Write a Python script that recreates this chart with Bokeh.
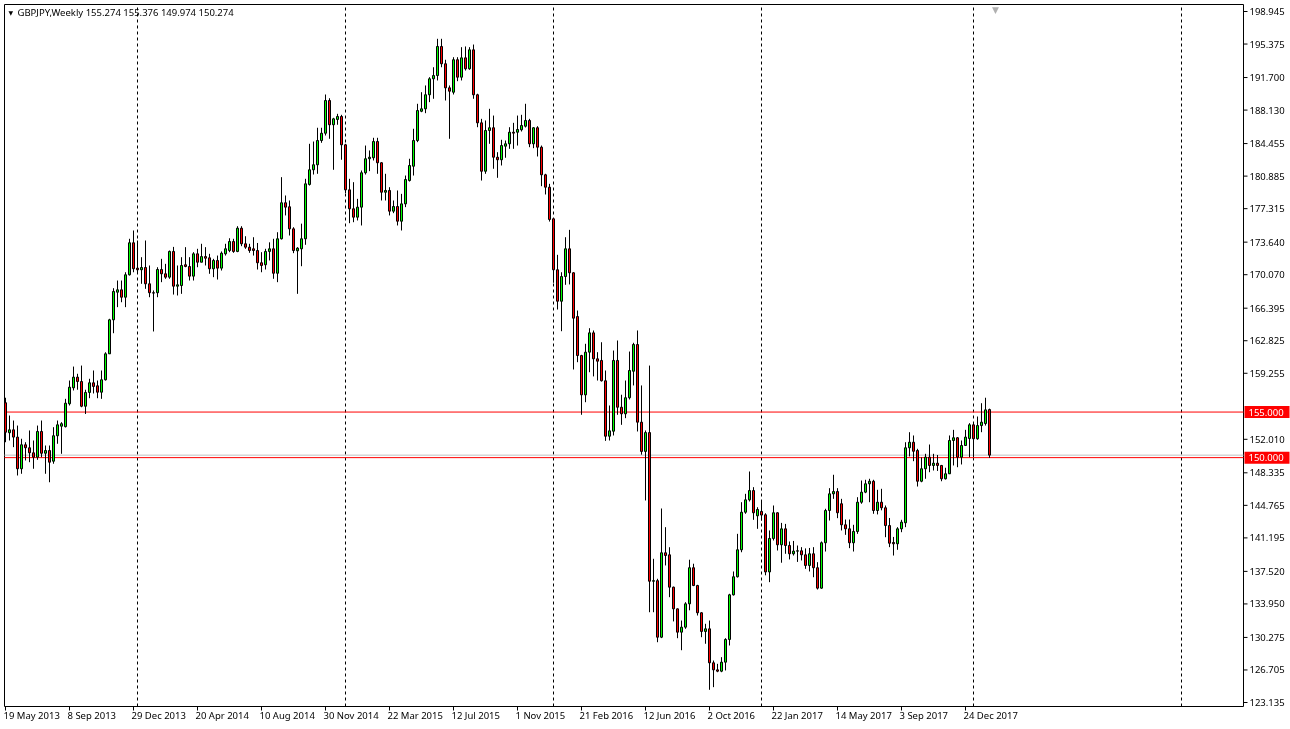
from bokeh.plotting import figure
from bokeh.models import Range1d, ColumnDataSource
from bokeh.core.properties import value
from bokeh.embed import file_html
from bokeh.resources import INLINE

# ---------------- data ----------------
symbol_text = "GBPJPY,Weekly  155.274 155.376 149.974 150.274"

opens = [156.02,152.73,153.05,152.25,148.78,151.41,151.08,150.53,150.05,152.87,
         150.48,150.78,149.61,152.40,153.45,153.40,155.91,157.66,158.83,158.35,
         155.64,157.15,158.21,157.88,157.18,158.54,161.39,165.12,168.15,168.41,
         167.60,170.06,173.57,170.79,170.61,170.86,169.07,168.09,168.09,170.64,
         170.17,169.80,172.62,168.81,168.88,171.16,170.97,169.91,172.36,171.44,
         172.06,171.92,170.72,171.63,170.79,172.36,172.72,173.71,172.62,175.17,
         173.46,173.09,172.91,172.72,171.38,171.16,172.62,172.91,170.23,174.01,
         177.96,177.52,175.10,172.69,172.91,174.01,179.97,181.58,182.13,184.79,
         185.59,189.18,186.52,187.10,187.43,184.32,179.38,177.30,176.38,177.48,
         181.25,182.79,182.90,184.68,182.35,179.12,179.31,177.04,177.55,175.94,
         177.84,180.40,181.97,184.79,188.00,188.27,189.81,191.56,191.92,195.11,
         193.21,190.57,190.09,193.65,191.74,193.86,192.66,194.74,189.81,186.73,
         181.42,185.89,186.19,182.96,182.68,184.17,184.43,185.70,185.70,185.97,
         186.36,186.99,184.43,186.19,184.06,181.03,179.67,176.20,170.61,167.16,
         169.87,172.91,170.28,165.48,161.20,156.89,161.57,163.69,160.84,160.66,
         158.43,152.35,152.90,160.66,155.53,154.81,156.57,159.48,162.41,153.89,
         150.68,152.75,136.44,136.50,130.30,139.56,139.34,135.79,133.41,130.85,
         131.40,133.96,137.92,135.97,132.98,130.93,131.22,127.49,126.72,126.57,
         127.56,130.05,134.95,136.93,139.89,144.01,145.37,146.39,143.62,144.10,
         143.73,137.46,141.13,143.95,140.44,142.19,140.36,139.45,139.74,139.78,
         139.34,138.17,139.45,137.92,135.68,140.66,144.20,146.03,146.28,144.94,
         142.63,142.19,140.66,141.90,145.11,146.21,147.13,147.41,144.20,145.11,
         144.50,142.55,140.69,140.55,142.19,142.85,151.08,151.69,150.78,147.41,
         148.78,150.05,149.14,149.39,149.14,147.68,148.23,151.88,152.18,150.05,
         151.33,152.10,153.60,152.07,153.52,153.74,155.274]

highs = [156.57,154.62,154.07,153.52,152.07,151.69,152.98,151.88,153.52,154.07,
         151.33,151.33,153.34,154.07,153.89,156.45,158.46,159.99,159.20,160.10,
         157.45,158.65,159.56,158.46,159.56,161.56,165.23,168.59,169.43,169.43,
         170.34,174.01,174.92,173.82,171.99,173.82,171.08,168.34,170.89,171.81,
         171.26,172.72,173.12,171.08,171.99,173.09,171.99,172.54,172.91,173.46,
         173.09,172.36,171.81,172.17,172.62,173.46,174.07,174.01,175.39,175.39,
         174.29,173.46,174.18,173.55,172.54,172.91,173.62,174.01,174.73,180.77,
         178.76,178.21,175.28,173.09,175.67,180.59,184.43,184.68,186.19,186.19,
         189.84,189.43,187.28,187.72,187.61,184.43,180.59,180.22,178.39,181.50,
         184.24,183.70,185.09,185.09,182.41,181.14,179.67,178.21,179.31,178.94,
         180.95,182.79,186.08,188.82,190.09,190.83,191.74,192.83,195.95,195.95,
         193.65,190.83,193.93,193.93,195.03,195.11,195.03,195.32,189.92,187.17,
         186.99,188.27,187.53,183.51,184.87,184.79,186.25,186.73,187.53,187.61,
         188.82,187.17,186.25,186.36,184.24,181.14,180.04,176.27,172.25,170.34,
         174.18,174.99,170.34,166.14,161.28,162.49,164.20,163.95,161.57,162.66,
         159.56,155.72,161.75,162.85,156.90,158.46,161.64,162.60,163.95,157.92,
         152.98,160.10,138.90,136.71,144.42,142.37,140.17,135.85,133.45,132.13,
         134.14,138.80,138.36,136.05,133.04,131.77,132.13,127.74,127.38,128.11,
         130.19,135.06,137.51,141.64,145.11,146.03,148.48,146.76,144.56,145.30,
         143.90,142.01,144.75,144.00,142.84,142.73,140.80,140.86,140.36,140.18,
         140.04,140.09,140.18,138.53,140.80,144.39,146.65,148.12,146.65,145.48,
         143.21,143.21,142.63,145.66,147.49,147.57,147.68,147.57,146.47,146.58,
         144.75,143.38,141.30,142.37,143.18,151.69,152.79,152.43,150.97,150.02,
         150.42,151.44,150.42,150.29,149.20,148.89,152.43,153.05,152.25,151.88,
         153.05,153.78,153.71,154.51,155.97,156.57,155.376]

lows = [151.69,151.88,151.15,148.04,148.23,149.69,149.50,148.78,149.76,150.05,
        148.23,147.30,149.33,151.52,150.42,153.31,155.72,157.37,157.45,155.53,
        154.79,156.52,157.04,156.52,156.45,158.46,161.39,163.65,166.51,167.05,
        166.51,169.98,170.34,170.34,169.07,168.52,167.60,163.84,167.60,169.25,
        169.62,169.62,167.89,167.79,167.97,170.89,169.43,169.43,170.89,171.44,
        171.08,170.17,169.80,169.54,170.53,172.17,172.54,172.47,172.54,173.20,
        172.91,172.47,172.17,170.64,170.34,170.64,171.63,169.62,169.25,173.93,
        176.57,174.37,172.43,167.97,171.00,173.35,179.85,181.06,181.14,184.54,
        185.34,184.98,181.58,186.52,182.68,179.01,175.72,175.83,176.02,175.47,
        181.06,181.43,182.60,181.14,178.21,178.21,176.57,176.82,175.47,174.92,
        177.48,180.29,180.95,184.61,187.90,187.79,189.00,189.37,191.38,192.83,
        189.18,184.98,189.84,191.30,191.38,192.47,192.55,189.37,186.25,180.40,
        181.14,184.43,181.69,180.70,182.05,182.90,183.88,183.88,184.24,185.78,
        186.22,184.06,183.95,183.04,179.78,178.87,175.90,169.18,166.25,163.87,
        168.96,169.00,159.67,160.47,154.70,156.08,159.37,158.91,158.46,158.35,
        151.84,151.88,152.43,154.70,153.60,154.33,156.38,157.92,152.87,150.33,
        145.30,133.04,133.04,129.75,130.20,138.17,134.69,132.03,130.19,128.87,
        131.22,133.25,135.90,132.68,130.30,129.58,124.53,124.82,126.46,126.46,
        126.65,129.39,134.87,136.85,139.62,143.84,145.19,143.18,142.19,143.10,
        137.09,136.34,140.91,139.81,138.47,139.45,138.83,139.26,138.56,138.72,
        137.80,137.51,136.88,135.53,135.61,139.70,143.10,145.48,143.36,142.01,
        141.53,140.07,139.70,141.64,144.94,146.10,145.11,143.84,143.77,144.22,
        141.27,140.18,139.26,139.89,141.82,142.37,150.13,149.61,146.83,147.30,
        147.68,148.40,148.59,148.54,147.41,147.60,148.20,149.14,148.95,149.25,
        151.30,150.05,150.05,151.96,152.79,153.52,149.974]

closes = [152.79,153.05,152.25,148.78,151.41,151.08,150.53,150.05,152.87,150.48,
          150.78,149.50,152.40,153.60,153.72,155.97,157.73,158.83,158.35,155.64,
          157.15,158.21,157.81,157.18,158.54,161.39,165.12,168.23,168.41,167.60,
          170.06,173.57,170.72,170.61,170.86,169.07,168.09,168.05,170.64,170.17,
          169.80,172.62,168.81,168.96,171.08,170.97,169.91,172.36,171.44,172.06,
          171.88,170.72,171.63,170.79,172.43,172.91,173.71,172.62,175.17,173.46,
          173.09,172.72,172.72,171.38,171.08,172.62,172.91,170.23,174.01,177.96,
          177.48,175.10,172.72,172.98,174.01,180.04,181.58,182.13,184.79,185.59,
          189.18,186.52,187.17,187.43,184.32,179.38,177.30,176.38,177.48,181.25,
          182.79,182.96,184.68,182.35,179.12,179.31,177.04,177.55,175.94,177.84,
          180.51,182.05,184.79,188.08,188.27,189.81,191.56,191.92,195.11,193.21,
          190.57,190.20,193.65,191.74,193.86,192.66,194.74,189.81,186.73,181.42,
          185.89,186.19,182.96,182.68,184.24,184.43,185.70,185.60,186.00,186.44,
          186.99,184.43,186.19,184.06,181.03,179.67,176.13,170.61,167.16,169.87,
          172.91,170.28,165.30,161.20,156.89,161.57,163.69,160.84,160.58,158.43,
          152.35,152.94,160.66,155.53,154.81,156.57,159.56,162.41,153.89,150.68,
          152.75,136.44,136.50,130.30,139.56,139.26,135.79,133.41,130.85,131.40,
          133.96,137.92,135.97,132.98,130.93,131.22,127.49,126.72,126.57,127.56,
          130.05,134.95,136.93,139.89,144.01,145.37,146.39,143.95,144.31,143.70,
          137.46,141.13,143.95,140.44,142.19,140.36,139.45,139.74,139.78,139.34,
          138.17,139.45,137.92,135.68,140.66,144.20,146.03,146.28,143.95,142.63,
          142.19,140.66,141.90,145.11,146.21,147.13,147.41,144.20,145.11,144.50,
          142.55,140.61,140.55,142.19,142.92,151.08,151.69,150.70,147.41,148.78,
          150.05,149.14,149.39,149.14,147.68,148.23,151.88,152.18,150.05,151.33,
          152.25,153.60,152.07,153.52,153.89,155.24,150.274]

date_labels = ["19 May 2013", "8 Sep 2013", "29 Dec 2013", "20 Apr 2014",
               "10 Aug 2014", "30 Nov 2014", "22 Mar 2015", "12 Jul 2015",
               "1 Nov 2015", "21 Feb 2016", "12 Jun 2016", "2 Oct 2016",
               "22 Jan 2017", "14 May 2017", "3 Sep 2017", "24 Dec 2017"]
date_label_bars = [0, 16, 32, 48, 64, 80, 96, 112, 128, 144, 160, 176,
                   192, 208, 224, 240]
price_ticks = [198.945, 195.375, 191.700, 188.130, 184.455, 180.885, 177.315,
               173.640, 170.070, 166.395, 162.825, 159.255, 152.010,
               148.335, 144.765, 141.195, 137.520, 133.950, 130.275, 126.705,
               123.135]
level_lines = [155.000, 150.000]
bid_price = 150.274
year_separator_bars = [33, 85, 137, 189, 242, 294]

# ---------------- layout ----------------
W, H = 1290, 729
PX = 4.0                       # pixels per weekly bar
L_PX, R_PX, T_PX, B_PX = 4, 1243, 4, 706   # chart box in canvas pixels
X0 = -0.25                     # bar coordinate at chart left edge
Y_TOP, Y_BOT = 199.713, 122.697
S = (Y_TOP - Y_BOT) / (B_PX - T_PX)        # price per pixel
X_R = X0 + (R_PX - L_PX) / PX              # bar coordinate at chart right edge
CX0 = X0 - L_PX / PX
CX1 = CX0 + W / PX
CY1 = Y_TOP + T_PX * S
CY0 = Y_TOP - (H - T_PX) * S

FONT = value("Noto Sans")
FS = value("9.5px")

n = len(opens)
xs = list(range(n))
colors = ["#00ff00" if c >= o else "#ff0000" for o, c in zip(opens, closes)]
src = ColumnDataSource(dict(
    x=xs, open=opens, high=highs, low=lows, close=closes,
    top=[max(o, c) for o, c in zip(opens, closes)],
    bottom=[min(o, c) for o, c in zip(opens, closes)],
    color=colors))

p = figure(width=W, height=H, x_range=Range1d(CX0, CX1), y_range=Range1d(CY0, CY1),
           output_backend="svg", toolbar_location=None,
           x_axis_location=None, y_axis_location=None,
           min_border=0, min_border_left=0, min_border_right=0,
           min_border_top=0, min_border_bottom=0,
           background_fill_color="white", border_fill_color="white",
           outline_line_color=None,
           styles={"position": "fixed", "left": "0px", "top": "0px"})
p.xgrid.visible = False
p.ygrid.visible = False

# chart box
p.quad(left=[X0], right=[X_R], top=[Y_TOP], bottom=[Y_BOT],
       fill_color=None, line_color="black", line_width=1)

# year separators
p.segment(x0=year_separator_bars, x1=year_separator_bars,
          y0=[Y_BOT] * len(year_separator_bars), y1=[Y_TOP] * len(year_separator_bars),
          line_color="black", line_width=1, line_dash="3 3")

# price level lines and bid line
p.segment(x0=[X0], x1=[X_R], y0=[bid_price], y1=[bid_price], line_color="#c0c0c0", line_width=1)
p.segment(x0=[X0] * 2, x1=[X_R] * 2, y0=level_lines, y1=level_lines,
          line_color="#ff0000", line_width=1)

# candles
p.segment(x0="x", y0="high", x1="x", y1="low", source=src, line_color="black", line_width=1)
p.vbar(x="x", width=0.5, top="top", bottom="bottom", source=src,
       fill_color="color", line_color="black", line_width=1)

# right price scale
p.segment(x0=[X_R] * len(price_ticks), x1=[X_R + 4 / PX] * len(price_ticks),
          y0=price_ticks, y1=price_ticks, line_color="black", line_width=1)
p.text(x=[X_R + 6 / PX] * len(price_ticks), y=price_ticks,
       text=[f"{t:.3f}" for t in price_ticks],
       text_align="left", text_baseline="middle",
       text_font=FONT, text_font_size=FS, text_color="black")

# red price-level boxes on the scale
p.quad(left=[X_R + 1 / PX] * 2, right=[X_R + 46 / PX] * 2,
       top=[lv + 6 * S for lv in level_lines], bottom=[lv - 6 * S for lv in level_lines],
       fill_color="#ff0000", line_color=None)
p.text(x=[X_R + 5 / PX] * 2, y=level_lines, text=[f"{lv:.3f}" for lv in level_lines],
       text_align="left", text_baseline="middle",
       text_font=FONT, text_font_size=FS, text_color="white")

# time scale
p.segment(x0=date_label_bars, x1=date_label_bars,
          y0=[Y_BOT] * len(date_label_bars), y1=[Y_BOT - 4 * S] * len(date_label_bars),
          line_color="black", line_width=1)
p.text(x=[b - 2 / PX for b in date_label_bars], y=[Y_BOT - 9 * S] * len(date_label_bars),
       text=date_labels, text_align="left", text_baseline="middle",
       text_font=FONT, text_font_size=FS, text_color="black")

# header
head_y = Y_TOP - 8 * S
p.text(x=[X0 + 13 / PX], y=[head_y], text=[symbol_text],
       text_align="left", text_baseline="middle",
       text_font=FONT, text_font_size=FS, text_color="black")
p.text(x=[X0 + 4 / PX], y=[head_y], text=["\u25bc"],
       text_align="left", text_baseline="middle",
       text_font=value("DejaVu Sans"), text_font_size=value("6px"), text_color="black")

# chart shift marker
p.text(x=[X0 + 991 / PX], y=[Y_TOP], text=["\u25bc"],
       text_align="center", text_baseline="top",
       text_font=value("DejaVu Sans"), text_font_size=value("9px"), text_color="#b0b0b0")

open("out.html", "w").write(file_html(p, INLINE))
